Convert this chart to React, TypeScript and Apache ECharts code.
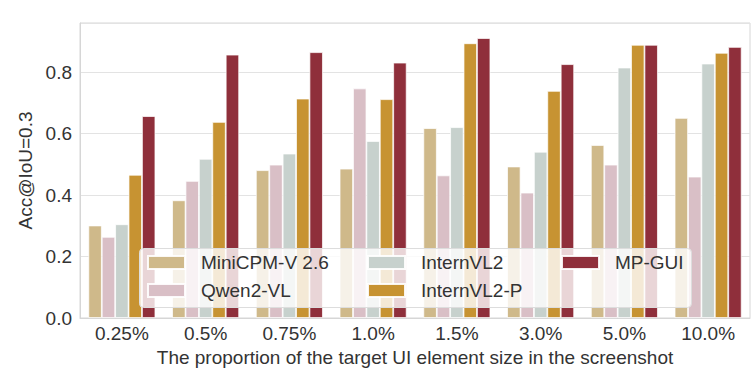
import React, { useEffect, useRef } from "react";
import * as echarts from "echarts";

const categories = ["0.25%", "0.5%", "0.75%", "1.0%", "1.5%", "3.0%", "5.0%", "10.0%"];
const seriesNames = ["MiniCPM-V 2.6", "Qwen2-VL", "InternVL2", "InternVL2-P", "MP-GUI"];
const miniCPM = [0.301, 0.383, 0.481, 0.486, 0.618, 0.493, 0.563, 0.651];
const qwen2VL = [0.264, 0.446, 0.499, 0.747, 0.464, 0.408, 0.499, 0.46];
const internVL2 = [0.305, 0.518, 0.535, 0.576, 0.621, 0.541, 0.815, 0.828];
const internVL2P = [0.466, 0.638, 0.714, 0.712, 0.894, 0.739, 0.889, 0.863];
const mpGUI = [0.657, 0.857, 0.865, 0.831, 0.911, 0.826, 0.889, 0.882];
const colors = ["#cfb98a", "#d9bfc6", "#c7d1cd", "#c79332", "#8f2f3b"];
const yTicks = [0, 0.2, 0.4, 0.6, 0.8];

const FONT = "'Liberation Sans', Arial, sans-serif";
const FS = 19;

export default function App() {
  const ref = useRef<HTMLDivElement>(null);
  useEffect(() => {
    document.body.style.margin = "0";
    const chart = echarts.init(ref.current!, null, { renderer: "svg" });
    const data = [miniCPM, qwen2VL, internVL2, internVL2P, mpGUI];
    const legendCols = [
      { left: 147, names: [seriesNames[0], seriesNames[1]] },
      { left: 367, names: [seriesNames[2], seriesNames[3]] },
      { left: 561, names: [seriesNames[4]] },
    ];
    chart.setOption({
      animation: false,
      textStyle: { fontFamily: FONT },
      grid: {
        left: 80,
        right: 6,
        top: 23,
        bottom: 58,
        show: true,
        borderColor: "#d6d6d6",
        borderWidth: 1,
      },
      xAxis: {
        type: "category",
        data: categories,
        axisTick: { show: false },
        axisLine: { show: true, lineStyle: { color: "#d6d6d6", width: 1 } },
        axisLabel: { fontSize: FS, color: "#333", margin: 6, fontFamily: FONT },
        name: "The proportion of the target UI element size in the screenshot",
        nameLocation: "middle",
        nameGap: 25,
        nameTextStyle: { fontSize: FS, color: "#333", fontFamily: FONT },
      },
      yAxis: {
        type: "value",
        min: 0,
        max: 0.96,
        interval: 0.2,
        axisLine: { show: true, lineStyle: { color: "#d6d6d6", width: 1 } },
        axisTick: { show: false },
        splitLine: { show: true, lineStyle: { color: "#e3e3e3", width: 1 } },
        axisLabel: {
          fontSize: FS,
          color: "#333",
          margin: 8,
          showMaxLabel: false,
          fontFamily: FONT,
          formatter: (v: number) => {
            const t = yTicks.find((x) => Math.abs(x - v) < 1e-6);
            return t === undefined ? "" : t.toFixed(1);
          },
        },
        name: "Acc@IoU=0.3",
        nameLocation: "middle",
        nameGap: 39,
        nameTextStyle: { fontSize: FS, color: "#333", fontFamily: FONT },
      },
      legend: legendCols.map((c) => ({
        data: c.names,
        orient: "vertical",
        left: c.left,
        top: 253,
        padding: 0,
        itemWidth: 37,
        itemHeight: 13,
        itemGap: 9,
        icon: "rect",
        z: 20,
        selectedMode: false,
        textStyle: {
          fontSize: FS,
          color: "#333",
          lineHeight: 19,
          fontFamily: FONT,
          padding: [0, 0, 0, 11],
        },
      })),
      graphic: [
        {
          type: "rect",
          z: 10,
          shape: { x: 139.5, y: 248.5, width: 552, height: 59, r: 4 },
          style: { fill: "rgba(255,255,255,0.8)", stroke: "#dddddd", lineWidth: 1 },
        },
      ],
      series: seriesNames.map((name, i) => ({
        name,
        type: "bar",
        data: data[i],
        barGap: "0%",
        barCategoryGap: "20%",
        itemStyle: { color: colors[i], borderColor: "rgba(255,255,255,0.9)", borderWidth: 0.8 },
      })),
    });
    return () => chart.dispose();
  }, []);
  return (
    <div
      ref={ref}
      style={{ width: 756, height: 376, position: "absolute", left: 0, top: 0, background: "#fff" }}
    />
  );
}
